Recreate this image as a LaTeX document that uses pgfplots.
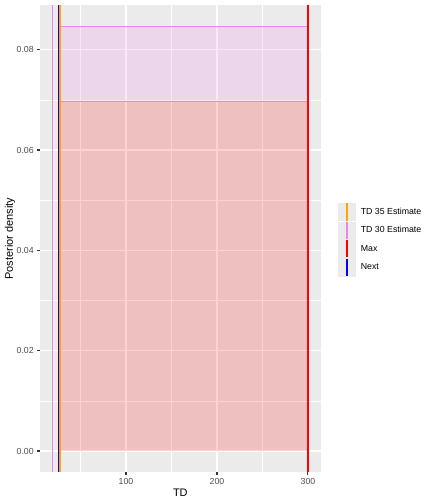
\documentclass[border=0pt]{standalone}
\usepackage{fontspec}
\setmainfont{Liberation Sans}
\usepackage{pgfplots}
\pgfplotsset{compat=1.18}

\definecolor{panelbg}{HTML}{EBEBEB}
\definecolor{keybg}{HTML}{EBEBEB}
\definecolor{ticktext}{HTML}{4D4D4D}
\definecolor{tickline}{HTML}{333333}
\definecolor{ggorange}{RGB}{255,165,0}
\definecolor{ggviolet}{RGB}{238,130,238}
\definecolor{ggred}{RGB}{255,0,0}
\definecolor{ggblue}{RGB}{0,0,255}

\pgfplotsset{
    vkey/.style={legend image code/.code={
        \fill[keybg] (0bp,-8.64bp) rectangle (17.28bp,8.64bp);
        \draw[#1, line width=1.1pt] (8.64bp,-8.64bp) -- (8.64bp,8.64bp);
    }},
}

\begin{document}
\begin{tikzpicture}
\path[use as bounding box] (0,0) rectangle (432bp,504bp);
\begin{axis}[
    at={(40bp,31.7bp)}, anchor=south west,
    scale only axis, width=280.7bp, height=467.3bp,
    xmin=5.48, xmax=314.0,
    ymin=-0.00424, ymax=0.0889,
    axis background/.style={fill=panelbg},
    axis line style={draw=none},
    xtick={100,200,300}, minor xtick={50,150,250},
    ytick={0,0.02,0.04,0.06,0.08}, minor ytick={0.01,0.03,0.05,0.07},
    xtick pos=left, ytick pos=left,
    grid=both,
    major grid style={white, line width=1.07pt},
    minor grid style={white, line width=0.53pt},
    tick align=outside, major tick length=2.75pt, minor tick length=0pt,
    tick style={tickline, line width=1.07pt},
    ticklabel style={font=\fontsize{8.8}{10}\selectfont, text=ticktext},
    yticklabel style={/pgf/number format/.cd, fixed, fixed zerofill, precision=2},
    /pgf/number format/assume math mode=true,
    scaled y ticks=false,
    xlabel={TD}, ylabel={Posterior density},
    label style={font=\fontsize{11}{13}\selectfont},
    xlabel style={at={(axis description cs:0.5,-0.0443)}, anchor=center},
    ylabel style={at={(axis description cs:-0.107,0.5)}, anchor=center},
    legend style={at={(axis description cs:1.0616,0.498)}, anchor=west,
        draw=none, fill=none, inner sep=0pt, row sep=0pt, column sep=2bp,
        nodes={inner xsep=3bp, inner ysep=0pt},
        font=\fontsize{8.8}{10}\selectfont},
    legend cell align=left,
]
% TD 30 area (above the TD 35 area)
\addplot[forget plot, draw=none, fill=ggviolet, fill opacity=0.2]
    coordinates {(28.0,0.06965) (28.0,0.0847) (300,0.0847) (300,0.06965)} -- cycle;
% TD 35 area
\addplot[forget plot, draw=none, fill=ggred, fill opacity=0.18]
    coordinates {(28.7,0) (28.7,0.06965) (300,0.06965) (300,0)} -- cycle;
% area outlines
\addplot[forget plot, color=ggviolet, line width=0.9pt] coordinates {(28.0,0.0847) (300,0.0847)};
\addplot[forget plot, color=ggorange, line width=0.9pt] coordinates {(28.7,0.06965) (300,0.06965)};

% vertical lines
\addplot[forget plot, color=ggred, line width=1.1pt] coordinates {(300,-0.00424) (300,0.0889)};
\addplot[forget plot, color=ggviolet, line width=1.1pt] coordinates {(19.5,-0.00424) (19.5,0.0889)};
\addplot[forget plot, color=ggblue, line width=1.1pt] coordinates {(26,-0.00424) (26,0.0889)};
\addplot[forget plot, color=ggorange, line width=1.1pt] coordinates {(27.5,-0.00424) (27.5,0.0889)};

\addlegendimage{vkey, color=ggorange}
\addlegendentry{TD 35 Estimate}
\addlegendimage{vkey, color=ggviolet}
\addlegendentry{TD 30 Estimate}
\addlegendimage{vkey, color=ggred}
\addlegendentry{Max}
\addlegendimage{vkey, color=ggblue}
\addlegendentry{Next}
\end{axis}
\end{tikzpicture}
\end{document}
